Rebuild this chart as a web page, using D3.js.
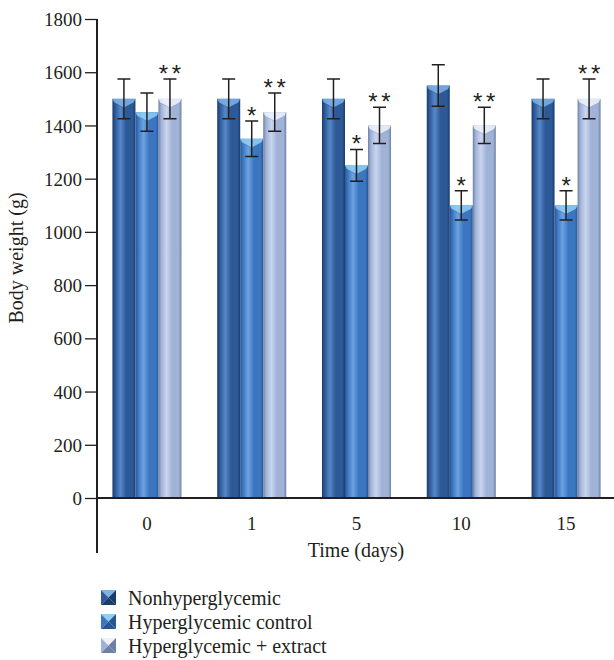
<!DOCTYPE html>
<html>
<head>
<meta charset="utf-8">
<script src="https://cdn.jsdelivr.net/npm/d3@7"></script>
<style>
  body { margin: 0; background: #fff; }
  text { font-family: "Liberation Serif", "DejaVu Serif", serif; fill: #231f20; }
</style>
</head>
<body>
<svg id="chart" width="614" height="660"></svg>
<script>
// data
var days = ["0", "1", "5", "10", "15"];
var seriesNames = ["Nonhyperglycemic", "Hyperglycemic control", "Hyperglycemic + extract"];
var nonhyper = [1500, 1500, 1500, 1550, 1500];
var hyperCtrl = [1450, 1350, 1250, 1100, 1100];
var hyperExtract = [1500, 1450, 1400, 1400, 1500];
var nonhyperErr = [75, 75, 75, 78, 75];
var hyperCtrlErr = [72, 67, 60, 55, 55];
var hyperExtractErr = [75, 72, 68, 68, 75];
var hyperCtrlMark = ["", "*", "*", "*", "*"];
var hyperExtractMark = ["**", "**", "**", "**", "**"];
var yTicks = [0, 200, 400, 600, 800, 1000, 1200, 1400, 1600, 1800];

// colours: base, light, dark
var palette = [
  {base: "#2d5997", light: "#5688c8", dark: "#1b3b6c", cap: "#7fb3e6"},
  {base: "#3c76c0", light: "#6ca3e2", dark: "#285594", cap: "#8fd0f4"},
  {base: "#a0b2d6", light: "#c9d6ee", dark: "#6d80a6", cap: "#eef3fb"}
];

var series = [
  {vals: nonhyper, err: nonhyperErr, mark: null},
  {vals: hyperCtrl, err: hyperCtrlErr, mark: hyperCtrlMark},
  {vals: hyperExtract, err: hyperExtractErr, mark: hyperExtractMark}
];

var svg = d3.select("#chart");
var defs = svg.append("defs");

palette.forEach(function(p, i) {
  var g = defs.append("linearGradient").attr("id", "grad" + i)
    .attr("x1", "0%").attr("x2", "100%").attr("y1", "0%").attr("y2", "0%");
  g.append("stop").attr("offset", "0%").attr("stop-color", p.dark);
  g.append("stop").attr("offset", "12%").attr("stop-color", p.base);
  g.append("stop").attr("offset", "35%").attr("stop-color", p.light);
  g.append("stop").attr("offset", "60%").attr("stop-color", p.base);
  g.append("stop").attr("offset", "88%").attr("stop-color", p.base);
  g.append("stop").attr("offset", "100%").attr("stop-color", p.dark);
});

var yAxisX = 97, baseY = 498, topY = 19;

var y = d3.scaleLinear().domain([0, 1800]).range([baseY, topY]);
var x0 = d3.scaleBand().domain(days).range([94.6, 618.4]).paddingInner(0.341).paddingOuter(0.17);
var x1 = d3.scaleBand().domain([0, 1, 2]).range([0, x0.bandwidth()]);

// bars
var groups = svg.append("g").attr("class", "bars")
  .selectAll("g").data(days).join("g")
  .attr("transform", d => `translate(${x0(d)},0)`);

series.forEach(function(s, si) {
  var bw = x1.bandwidth();
  groups.each(function(d, di) {
    var g = d3.select(this);
    var bx = x1(si), by = y(s.vals[di]);
    g.append("rect")
      .attr("x", bx).attr("y", by)
      .attr("width", bw).attr("height", baseY - by)
      .attr("fill", "url(#grad" + si + ")");
    // bevelled top
    g.append("path")
      .attr("d", `M${bx},${by} L${bx + bw},${by} L${bx + bw - 2},${by + 4} L${bx + bw / 2},${by + 9} L${bx + 2},${by + 4} Z`)
      .attr("fill", palette[si].cap).attr("opacity", 0.85);
    g.append("path")
      .attr("d", `M${bx + 2},${by + 4} L${bx + bw / 2},${by + 9} L${bx + bw - 2},${by + 4}`)
      .attr("fill", "none").attr("stroke", palette[si].dark).attr("stroke-width", 0.6).attr("opacity", 0.6);
  });
});

// error bars and significance marks
var capW = 6.5;
series.forEach(function(s, si) {
  groups.each(function(d, di) {
    var g = d3.select(this);
    var cx = x1(si) + x1.bandwidth() / 2;
    var hi = y(s.vals[di] + s.err[di]), lo = y(s.vals[di] - s.err[di]);
    g.append("path")
      .attr("d", `M${cx},${hi} V${lo} M${cx - capW},${hi} H${cx + capW} M${cx - capW},${lo} H${cx + capW}`)
      .attr("stroke", "#231f20").attr("stroke-width", 1.5).attr("fill", "none");
    if (s.mark && s.mark[di]) {
      var stars = s.mark[di].split("");
      stars.forEach(function(c, k) {
        var off = (k - (stars.length - 1) / 2) * 13;
        g.append("text")
          .attr("x", cx + off).attr("y", hi + 3)
          .attr("text-anchor", "middle")
          .style("font-family", "'Liberation Sans', Arial, sans-serif")
          .style("font-size", "24px")
          .style("fill", "#231f20")
          .text(c);
      });
    }
  });
});

// y axis
var yAxis = svg.append("g").attr("transform", `translate(${yAxisX},0)`)
  .call(d3.axisLeft(y).tickValues(yTicks).tickFormat(d3.format("d")).tickSize(12).tickPadding(3).tickSizeOuter(0));
yAxis.select(".domain").remove();
yAxis.selectAll("line").attr("stroke", "#231f20").attr("stroke-width", 1.3);
yAxis.selectAll("text").style("font-size", "19px").style("font-family", null).attr("dy", "0.35em");
svg.append("line").attr("x1", yAxisX).attr("x2", yAxisX).attr("y1", topY).attr("y2", 553)
  .attr("stroke", "#231f20").attr("stroke-width", 2);

// x axis
svg.append("line").attr("x1", yAxisX).attr("x2", 614).attr("y1", baseY).attr("y2", baseY)
  .attr("stroke", "#231f20").attr("stroke-width", 2);
svg.append("g").selectAll("text").data(days).join("text")
  .attr("x", d => x0(d) + x0.bandwidth() / 2)
  .attr("y", 530)
  .attr("text-anchor", "middle")
  .style("font-size", "19px")
  .text(d => d);

// axis titles
svg.append("text").attr("x", 356).attr("y", 557).attr("text-anchor", "middle")
  .style("font-size", "20px").text("Time (days)");
svg.append("text").attr("transform", "translate(23,258) rotate(-90)").attr("text-anchor", "middle")
  .style("font-size", "20px").text("Body weight (g)");

// legend
var legend = svg.append("g").selectAll("g").data(seriesNames).join("g")
  .attr("transform", (d, i) => `translate(101,${590 + i * 24})`);
var s = 15;
legend.each(function(d, i) {
  var g = d3.select(this), p = palette[i];
  g.append("path").attr("d", `M0,0 L${s},0 L${s / 2},${s / 2} Z`).attr("fill", p.cap);
  g.append("path").attr("d", `M0,0 L${s / 2},${s / 2} L0,${s} Z`).attr("fill", p.base);
  g.append("path").attr("d", `M${s},0 L${s / 2},${s / 2} L${s},${s} Z`).attr("fill", p.dark);
  g.append("path").attr("d", `M0,${s} L${s / 2},${s / 2} L${s},${s} Z`).attr("fill", p.dark);
  g.append("text").attr("x", 27).attr("y", s / 2).attr("dy", "0.35em")
    .style("font-size", "20px").text(d);
});
</script>
</body>
</html>
